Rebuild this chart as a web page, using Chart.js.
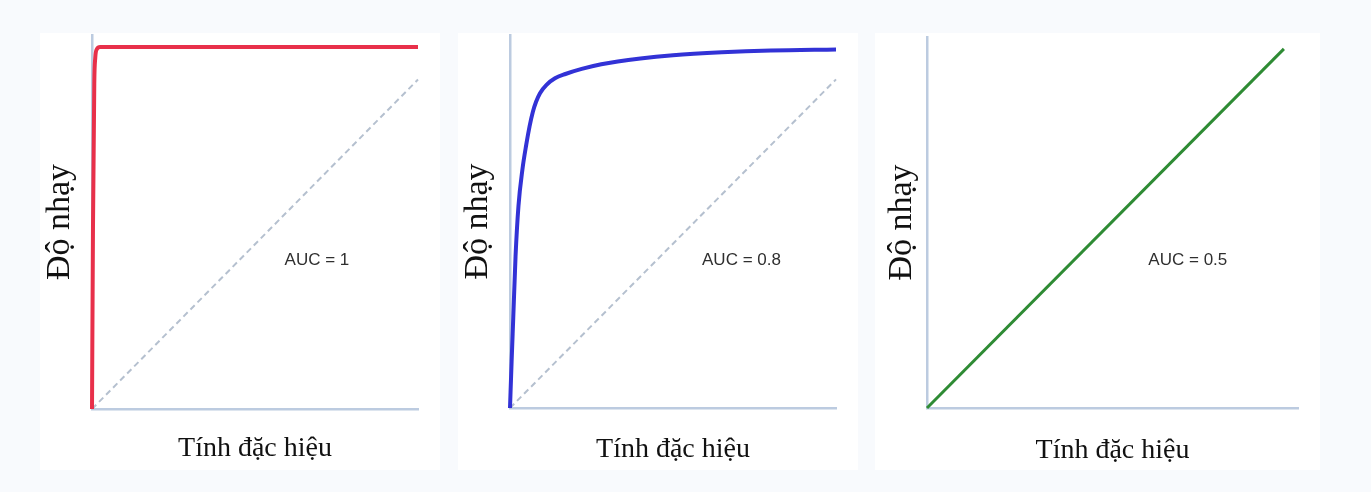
<!DOCTYPE html>
<html>
<head>
<meta charset="utf-8">
<script src="https://cdn.jsdelivr.net/npm/chart.js"></script>
<style>
  body { margin: 0; width: 1371px; height: 492px; background: #f8fafd; position: relative; overflow: hidden; }
  .bg { position: absolute; background: #fff; }
  canvas { position: absolute; }
</style>
</head>
<body>
<div class="bg" style="left:40px;top:33px;width:400px;height:437px"></div>
<div class="bg" style="left:458px;top:33px;width:400px;height:437px"></div>
<div class="bg" style="left:875px;top:33px;width:445px;height:437px"></div>
<canvas id="rocPerfect" width="400" height="455" style="left:40px;top:20px"></canvas>
<canvas id="rocGood" width="400" height="455" style="left:458px;top:20px"></canvas>
<canvas id="rocRandom" width="445" height="455" style="left:875px;top:20px"></canvas>
<script>
// nhan truc
const xTitle = "Tính đặc hiệu";
const yTitle = "Độ nhạy";

// duong cheo tham chieu (net dut)
const diagX = [0, 1];
const diagY = [0, 0.91];

// AUC = 1
const redX = [0, 0.003, 0.007, 0.01, 0.015, 0.025, 1];
const redY = [0, 0.5, 0.9, 0.97, 0.994, 1, 1];

// AUC = 0.8
const blueX = [0, 0.005, 0.01, 0.017, 0.026, 0.038, 0.05, 0.06, 0.07, 0.08, 0.092, 0.112, 0.138, 0.17, 0.22, 0.28, 0.4, 0.5, 0.65, 0.8, 1];
const blueY = [0, 0.13, 0.25, 0.42, 0.56, 0.66, 0.73, 0.78, 0.82, 0.848, 0.872, 0.895, 0.913, 0.925, 0.939, 0.952, 0.968, 0.977, 0.985, 0.99, 0.993];

// AUC = 0.5
const greenX = [0, 0.962];
const greenY = [0, 1];

// nhan AUC
const aucTexts = ["AUC = 1", "AUC = 0.8", "AUC = 0.5"];
const aucX = [0.69, 0.71, 0.703];
const aucY = [0.41, 0.41, 0.412];

const axisColor = "#bccbe0";

function points(xs, ys) {
  return xs.map((x, i) => ({ x: x, y: ys[i] }));
}

// ve chu AUC trong vung ve
const aucLabel = {
  id: "aucLabel",
  afterDatasetsDraw(chart, args, opts) {
    const { ctx, scales } = chart;
    ctx.save();
    ctx.font = "17px 'Liberation Sans'";
    ctx.fillStyle = "#2f2f2f";
    ctx.textAlign = "center";
    ctx.textBaseline = "middle";
    ctx.fillText(opts.text, scales.x.getPixelForValue(opts.x), scales.y.getPixelForValue(opts.y));
    ctx.restore();
  },
};

function makeChart(id, curve, color, width, withDiag, idx, pad) {
  const datasets = [
    {
      data: curve,
      borderColor: color,
      borderWidth: width,
      pointRadius: 0,
      cubicInterpolationMode: "monotone",
      clip: false,
      order: 1,
    },
  ];
  if (withDiag) {
    datasets.push({
      data: points(diagX, diagY),
      borderColor: "#b5c0cf",
      borderWidth: 2,
      borderDash: [6, 4],
      pointRadius: 0,
      clip: false,
      order: 2,
    });
  }
  return new Chart(document.getElementById(id).getContext("2d"), {
    type: "line",
    data: { datasets: datasets },
    plugins: [aucLabel],
    options: {
      responsive: false,
      animation: false,
      events: [],
      layout: { autoPadding: false, padding: pad.layout },
      plugins: {
        legend: { display: false },
        tooltip: { enabled: false },
        aucLabel: { text: aucTexts[idx], x: aucX[idx], y: aucY[idx] },
      },
      scales: {
        x: {
          type: "linear",
          min: 0,
          max: 1,
          grid: { display: false, drawTicks: false },
          ticks: { display: false },
          border: { display: true, color: axisColor, width: 2.5 },
          title: {
            display: true,
            text: xTitle,
            color: "#111",
            font: { family: "'Liberation Serif'", size: 28 },
            padding: pad.x,
          },
        },
        y: {
          type: "linear",
          min: 0,
          max: 1.033,
          grid: { display: false, drawTicks: false },
          ticks: { display: false },
          border: { display: true, color: axisColor, width: 2.5 },
          title: {
            display: true,
            text: yTitle,
            color: "#111",
            font: { family: "'Liberation Serif'", size: 34 },
            padding: pad.y,
          },
        },
      },
    },
  });
}

makeChart("rocPerfect", points(redX, redY), "#e8304a", 4, true, 0, {
  layout: { top: 15, right: 22, bottom: 0, left: 0 },
  x: { top: 23.2, bottom: 9.2 },
  y: { top: 0, bottom: 11.2 },
});

makeChart("rocGood", points(blueX, blueY), "#3232d6", 4, true, 1, {
  layout: { top: 15, right: 22, bottom: 0, left: 0 },
  x: { top: 25.2, bottom: 8.2 },
  y: { top: 0, bottom: 11.2 },
});

makeChart("rocRandom", points(greenX, greenY), "#2e8b34", 3, false, 2, {
  layout: { top: 17, right: 22, bottom: 0, left: 0 },
  x: { top: 26.2, bottom: 7.2 },
  y: { top: 6.6, bottom: 4.6 },
});
</script>
</body>
</html>
